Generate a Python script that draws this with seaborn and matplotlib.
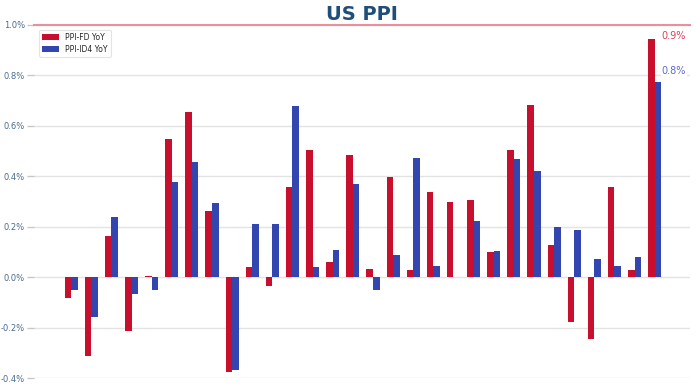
import matplotlib
matplotlib.use("Agg")
import matplotlib.pyplot as plt
import seaborn as sns
import pandas as pd
import numpy as np
from matplotlib.ticker import FuncFormatter

periods = [f"P{i+1}" for i in range(30)]
ppi_fd = [-0.083, -0.313, 0.162, -0.213, 0.005, 0.547, 0.653, 0.260, -0.374, 0.040,
          -0.037, 0.356, 0.502, 0.058, 0.485, 0.032, 0.398, 0.028, 0.339, 0.296,
          0.307, 0.101, 0.502, 0.683, 0.128, -0.177, -0.244, 0.356, 0.028, 0.945]
ppi_id4 = [-0.051, -0.158, 0.237, -0.066, -0.051, 0.377, 0.455, 0.295, -0.367, 0.210,
           0.209, 0.676, 0.038, 0.107, 0.370, -0.053, 0.086, 0.470, 0.043, 0.002,
           0.221, 0.103, 0.466, 0.419, 0.199, 0.187, 0.072, 0.045, 0.079, 0.774]
series_names = ["PPI-FD YoY", "PPI-ID4 YoY"]
colors = ["#C8102E", "#3346B0"]

df = pd.DataFrame({
    "period": periods * 2,
    "value": ppi_fd + ppi_id4,
    "series": [series_names[0]] * len(periods) + [series_names[1]] * len(periods),
})

sns.set_theme(style="white")
plt.rcParams['font.family'] = ['DejaVu Sans']

fig = plt.figure(figsize=(6.96, 3.85), dpi=100)
ax = fig.add_axes([0.049, 0.018, 0.942, 0.918])

sns.barplot(data=df, x="period", y="value", hue="series", order=periods,
            hue_order=series_names, palette=colors, width=0.65, ax=ax,
            linewidth=0, saturation=1)

ax.set_ylim(-0.4, 1.0)
ax.set_xlim(-1.84, len(periods) - 1 + 1.74)
ax.set_yticks(np.arange(-0.4, 1.01, 0.2))
ax.yaxis.set_major_formatter(FuncFormatter(lambda v, p: f"{v:.1f}%"))
ax.grid(axis="y", color="#e3e3e3", linewidth=1)
ax.set_axisbelow(True)
ax.set_xticks([])
ax.set_xlabel("")
ax.set_ylabel("")
ax.tick_params(axis="y", labelsize=6, labelcolor="#4a6b8c", color="#c8c8c8",
               length=5, width=1, left=True, pad=1.5)
for s in ["left", "right", "bottom"]:
    ax.spines[s].set_visible(False)
ax.spines["top"].set_color("#e8909c")
ax.spines["top"].set_linewidth(1.5)

ax.set_title("US PPI", fontsize=14, fontweight="bold", color="#1f4e79", pad=3)

leg = ax.legend(loc="upper left", bbox_to_anchor=(0.002, 0.997), fontsize=5.5,
                frameon=True, handlelength=2.2, handleheight=0.9,
                borderpad=0.4, labelspacing=0.4, fancybox=True)
leg.get_frame().set_edgecolor("#dddddd")
leg.get_frame().set_linewidth(0.8)

last = len(periods) - 1
ax.annotate(f"{ppi_fd[-1]:.1f}%", xy=(last + 0.35, ppi_fd[-1]), xytext=(0, 2),
            textcoords="offset points", fontsize=7, color="#d9405a",
            ha="left", va="center")
ax.annotate(f"{ppi_id4[-1]:.1f}%", xy=(last + 0.35, ppi_id4[-1]), xytext=(0, 8),
            textcoords="offset points", fontsize=7, color="#5a6cc8",
            ha="left", va="center",
            bbox=dict(boxstyle="square,pad=0.1", fc="white", ec="none"))

fig.savefig("out.png", dpi=100)
